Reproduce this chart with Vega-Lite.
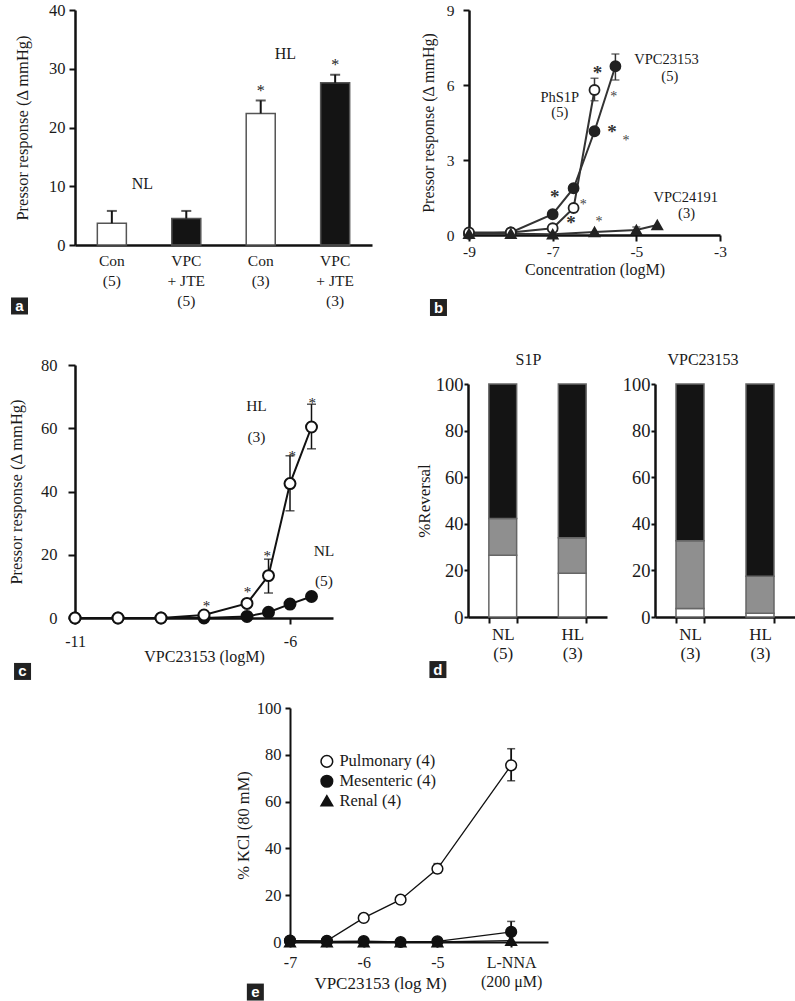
{
  "$schema": "https://vega.github.io/schema/vega-lite/v6.json",
  "padding": {"left": 8, "top": 2, "right": 2, "bottom": 2},
  "background": "white",
  "config": {
    "view": {"stroke": null},
    "font": "Liberation Serif",
    "axis": {"domainColor": "#111", "domainWidth": 2.5, "tickColor": "#111", "tickWidth": 2, "labelFont": "Liberation Serif", "labelFontSize": 16, "labelColor": "#1a1a1a", "labelFlush": false, "titleFont": "Liberation Serif", "titleFontSize": 16, "titleFontWeight": "normal", "titleColor": "#1a1a1a", "grid": false, "labelAngle": 0},
    "title": {"font": "Liberation Serif", "fontWeight": "normal", "fontSize": 16, "color": "#1a1a1a"}
  },
  "datasets": {
    "barsA": [
      {"grp": "Con|(5)", "drug": "Con", "v": 3.7, "hi": 5.8},
      {"grp": "VPC|+ JTE|(5)", "drug": "VPC + JTE", "v": 4.5, "hi": 5.8},
      {"grp": "Con|(3)", "drug": "Con", "v": 22.4, "hi": 24.6},
      {"grp": "VPC|+ JTE|(3)", "drug": "VPC + JTE", "v": 27.6, "hi": 29.0}
    ],
    "starsA": [
      {"grp": "Con|(3)", "y": 26.7},
      {"grp": "VPC|+ JTE|(3)", "y": 31.1}
    ],
    "ptsB": [
      {"s": "VPC23153", "x": -9, "y": 0.05},
      {"s": "VPC23153", "x": -8, "y": 0.1},
      {"s": "VPC23153", "x": -7, "y": 0.83},
      {"s": "VPC23153", "x": -6.5, "y": 1.87},
      {"s": "VPC23153", "x": -6, "y": 4.15},
      {"s": "VPC23153", "x": -5.5, "y": 6.75},
      {"s": "PhS1P", "x": -9, "y": 0.1},
      {"s": "PhS1P", "x": -8, "y": 0.1},
      {"s": "PhS1P", "x": -7, "y": 0.27},
      {"s": "PhS1P", "x": -6.5, "y": 1.08},
      {"s": "PhS1P", "x": -6, "y": 5.8},
      {"s": "VPC24191", "x": -9, "y": 0.05},
      {"s": "VPC24191", "x": -8, "y": 0.05},
      {"s": "VPC24191", "x": -7, "y": 0.03},
      {"s": "VPC24191", "x": -6, "y": 0.12},
      {"s": "VPC24191", "x": -5, "y": 0.2},
      {"s": "VPC24191", "x": -4.5, "y": 0.4}
    ],
    "errB": [
      {"x": -6, "lo": 5.37, "hi": 6.27},
      {"x": -5.5, "lo": 6.2, "hi": 7.24},
      {"x": -5, "lo": 0.1, "hi": 0.32}
    ],
    "starsBigB": [
      {"x": -5.93, "y": 6.64}, {"x": -5.58, "y": 4.3}, {"x": -6.95, "y": 1.67}, {"x": -6.56, "y": 0.64}
    ],
    "starsSmallB": [
      {"x": -5.54, "y": 5.64}, {"x": -5.25, "y": 3.9}, {"x": -6.27, "y": 1.33}, {"x": -5.89, "y": 0.64}
    ],
    "textB": [
      {"t": "VPC23153", "x": -4.28, "y": 7.0},
      {"t": "(5)", "x": -4.2, "y": 6.33},
      {"t": "PhS1P", "x": -6.83, "y": 5.48},
      {"t": "(5)", "x": -6.83, "y": 4.88},
      {"t": "VPC24191", "x": -3.82, "y": 1.48},
      {"t": "(3)", "x": -3.8, "y": 0.84}
    ],
    "lettersB": [{"L": "b", "x": -9.73, "y": -2.9}],
    "ptsC": [
      {"s": "NL", "x": -11, "y": 0}, {"s": "NL", "x": -10, "y": 0}, {"s": "NL", "x": -9, "y": 0},
      {"s": "NL", "x": -8, "y": 0}, {"s": "NL", "x": -7, "y": 0.5}, {"s": "NL", "x": -6.5, "y": 1.8},
      {"s": "NL", "x": -6, "y": 4.4}, {"s": "NL", "x": -5.5, "y": 6.8},
      {"s": "HL", "x": -11, "y": 0}, {"s": "HL", "x": -10, "y": 0}, {"s": "HL", "x": -9, "y": 0},
      {"s": "HL", "x": -8, "y": 0.95}, {"s": "HL", "x": -7, "y": 4.6}, {"s": "HL", "x": -6.5, "y": 13.4},
      {"s": "HL", "x": -6, "y": 42.5}, {"s": "HL", "x": -5.5, "y": 60.4}
    ],
    "errC": [
      {"x": -6.5, "lo": 7.9, "hi": 18.6},
      {"x": -6, "lo": 33.9, "hi": 51.3},
      {"x": -5.5, "lo": 53.5, "hi": 67.6}
    ],
    "starsC": [
      {"x": -7.94, "y": 4.9}, {"x": -6.99, "y": 9.2}, {"x": -6.53, "y": 20.7}, {"x": -5.95, "y": 52.3}, {"x": -5.48, "y": 69}
    ],
    "textC": [
      {"t": "HL", "x": -6.78, "y": 67},
      {"t": "(3)", "x": -6.78, "y": 57.3},
      {"t": "NL", "x": -5.21, "y": 21.3},
      {"t": "(5)", "x": -5.21, "y": 11.8}
    ],
    "lettersC": [
      {"L": "a", "x": -12.29, "y": 98.66},
      {"L": "c", "x": -12.22, "y": -16.9},
      {"L": "d", "x": -2.56, "y": -16.3}
    ],
    "revS1P": [
      {"grp": "NL|(5)", "seg": "w", "k": 1, "v": 26.5},
      {"grp": "NL|(5)", "seg": "g", "k": 2, "v": 15.8},
      {"grp": "NL|(5)", "seg": "b", "k": 3, "v": 57.7},
      {"grp": "HL|(3)", "seg": "w", "k": 1, "v": 18.8},
      {"grp": "HL|(3)", "seg": "g", "k": 2, "v": 15.2},
      {"grp": "HL|(3)", "seg": "b", "k": 3, "v": 66.0}
    ],
    "revVPC": [
      {"grp": "NL|(3)", "seg": "w", "k": 1, "v": 3.6},
      {"grp": "NL|(3)", "seg": "g", "k": 2, "v": 29.1},
      {"grp": "NL|(3)", "seg": "b", "k": 3, "v": 67.3},
      {"grp": "HL|(3)", "seg": "w", "k": 1, "v": 1.6},
      {"grp": "HL|(3)", "seg": "g", "k": 2, "v": 15.9},
      {"grp": "HL|(3)", "seg": "b", "k": 3, "v": 82.5}
    ],
    "ptsE": [
      {"s": "Pulmonary (4)", "x": -7, "y": 0.6}, {"s": "Pulmonary (4)", "x": -6.5, "y": 0.5},
      {"s": "Pulmonary (4)", "x": -6, "y": 10.3}, {"s": "Pulmonary (4)", "x": -5.5, "y": 18.1},
      {"s": "Pulmonary (4)", "x": -5, "y": 31.3}, {"s": "Pulmonary (4)", "x": -4, "y": 75.5},
      {"s": "Mesenteric (4)", "x": -7, "y": 0.5}, {"s": "Mesenteric (4)", "x": -6.5, "y": 0.3},
      {"s": "Mesenteric (4)", "x": -6, "y": 0.4}, {"s": "Mesenteric (4)", "x": -5.5, "y": 0},
      {"s": "Mesenteric (4)", "x": -5, "y": 0.3}, {"s": "Mesenteric (4)", "x": -4, "y": 4.3},
      {"s": "Renal (4)", "x": -7, "y": 0}, {"s": "Renal (4)", "x": -6.5, "y": 0},
      {"s": "Renal (4)", "x": -6, "y": 0}, {"s": "Renal (4)", "x": -5.5, "y": 0},
      {"s": "Renal (4)", "x": -5, "y": 0}, {"s": "Renal (4)", "x": -4, "y": 0.6}
    ],
    "errE": [
      {"x": -5, "lo": 29.5, "hi": 33.5},
      {"x": -4, "lo": 68.9, "hi": 82.6},
      {"x": -4, "lo": 0, "hi": 8.8}
    ],
    "keyE": [
      {"s": "Pulmonary (4)", "x": -6.5, "tx": -6.33, "y": 77.2},
      {"s": "Mesenteric (4)", "x": -6.5, "tx": -6.33, "y": 68.7},
      {"s": "Renal (4)", "x": -6.5, "tx": -6.33, "y": 60.4}
    ],
    "lettersE": [{"L": "e", "x": -7.47, "y": -21.4}]
  },
  "vconcat": [
    {
      "vconcat": [
        {
          "hconcat": [
            {
              "width": 297, "height": 235,
              "layer": [
                {"data": {"name": "barsA"},
                 "mark": {"type": "bar", "stroke": "#555", "strokeWidth": 1.5},
                 "encoding": {
                   "x": {"field": "grp", "type": "nominal", "sort": null,
                         "scale": {"domain": ["Con|(5)", "VPC|+ JTE|(5)", "Con|(3)", "VPC|+ JTE|(3)"], "paddingInner": 0.61, "paddingOuter": 0.3},
                         "axis": {"title": null, "ticks": false, "labelFontSize": 15.5, "labelExpr": "split(datum.value, '|')", "labelLineHeight": 20, "labelPadding": 8}},
                   "y": {"field": "v", "type": "quantitative", "scale": {"domain": [0, 40]},
                         "axis": {"values": [0, 10, 20, 30, 40], "tickSize": 6, "labelPadding": 4, "labelFontSize": 16.5, "title": "Pressor  response  (Δ mmHg)", "titleFontSize": 16.5, "titlePadding": 18}},
                   "fill": {"field": "drug", "type": "nominal", "scale": {"domain": ["Con", "VPC + JTE"], "range": ["white", "#141414"]}, "legend": null}
                 }},
                {"data": {"name": "barsA"},
                 "mark": {"type": "rule", "strokeWidth": 2, "color": "#141414"},
                 "encoding": {"x": {"field": "grp", "type": "nominal", "sort": null}, "y": {"field": "v", "type": "quantitative"}, "y2": {"field": "hi"}}},
                {"data": {"name": "barsA"},
                 "mark": {"type": "tick", "orient": "horizontal", "thickness": 2, "size": 10, "color": "#141414"},
                 "encoding": {"x": {"field": "grp", "type": "nominal", "sort": null}, "y": {"field": "hi", "type": "quantitative"}}},
                {"data": {"name": "starsA"},
                 "mark": {"type": "text", "fontSize": 16, "baseline": "middle", "dy": 3, "color": "#222"},
                 "encoding": {"x": {"field": "grp", "type": "nominal", "sort": null}, "y": {"field": "y", "type": "quantitative"}, "text": {"value": "*"}}},
                {"data": {"values": [{"t": "NL", "grp": "Con|(5)", "y": 10.4}]},
                 "mark": {"type": "text", "fontSize": 16, "baseline": "middle", "color": "#1a1a1a"},
                 "encoding": {"x": {"field": "grp", "type": "nominal", "sort": null, "bandPosition": 1.55}, "y": {"field": "y", "type": "quantitative"}, "text": {"field": "t"}}},
                {"data": {"values": [{"t": "HL", "grp": "Con|(3)", "y": 32.5}]},
                 "mark": {"type": "text", "fontSize": 16, "baseline": "middle", "color": "#1a1a1a"},
                 "encoding": {"x": {"field": "grp", "type": "nominal", "sort": null, "bandPosition": 1.35}, "y": {"field": "y", "type": "quantitative"}, "text": {"field": "t"}}}
              ]
            },
            {
              "width": 251, "height": 225,
              "layer": [
                {"data": {"name": "ptsB"},
                 "mark": {"type": "line", "color": "#333", "strokeWidth": 2},
                 "encoding": {
                   "x": {"field": "x", "type": "quantitative", "scale": {"domain": [-9, -3]},
                         "axis": {"values": [-9, -7, -5, -3], "labelExpr": "'' + datum.value", "tickSize": 6, "labelPadding": 3, "labelFontSize": 15.5, "title": "Concentration (logM)", "titleFontSize": 16, "titlePadding": 2}},
                   "y": {"field": "y", "type": "quantitative", "scale": {"domain": [0, 9]},
                         "axis": {"values": [0, 3, 6, 9], "tickSize": 6, "labelPadding": 9, "labelFontSize": 15.5, "title": "Pressor response (Δ mmHg)", "titleFontSize": 16, "titlePadding": 10}},
                   "detail": {"field": "s"}
                 }},
                {"data": {"name": "errB"},
                 "mark": {"type": "rule", "color": "#333", "strokeWidth": 1.5},
                 "encoding": {"x": {"field": "x", "type": "quantitative"}, "y": {"field": "lo", "type": "quantitative"}, "y2": {"field": "hi"}}},
                {"data": {"name": "errB"},
                 "mark": {"type": "tick", "orient": "horizontal", "size": 8, "thickness": 1.5, "color": "#333"},
                 "encoding": {"x": {"field": "x", "type": "quantitative"}, "y": {"field": "hi", "type": "quantitative"}}},
                {"data": {"name": "errB"},
                 "mark": {"type": "tick", "orient": "horizontal", "size": 8, "thickness": 1.5, "color": "#333"},
                 "encoding": {"x": {"field": "x", "type": "quantitative"}, "y": {"field": "lo", "type": "quantitative"}}},
                {"data": {"name": "ptsB"},
                 "mark": {"type": "point", "filled": true, "size": 100, "stroke": "#222", "strokeWidth": 1.8, "opacity": 1},
                 "encoding": {
                   "x": {"field": "x", "type": "quantitative"},
                   "y": {"field": "y", "type": "quantitative"},
                   "shape": {"field": "s", "type": "nominal", "scale": {"domain": ["VPC23153", "PhS1P", "VPC24191"], "range": ["circle", "circle", "triangle-up"]}, "legend": null},
                   "fill": {"field": "s", "type": "nominal", "scale": {"domain": ["VPC23153", "PhS1P", "VPC24191"], "range": ["#222", "white", "#222"]}, "legend": null}
                 }},
                {"data": {"name": "starsBigB"},
                 "mark": {"type": "text", "fontSize": 19, "fontWeight": "bold", "baseline": "middle", "dy": 4, "color": "#333"},
                 "encoding": {"x": {"field": "x", "type": "quantitative"}, "y": {"field": "y", "type": "quantitative"}, "text": {"value": "*"}}},
                {"data": {"name": "starsSmallB"},
                 "mark": {"type": "text", "fontSize": 14, "baseline": "middle", "dy": 3, "color": "#444"},
                 "encoding": {"x": {"field": "x", "type": "quantitative"}, "y": {"field": "y", "type": "quantitative"}, "text": {"value": "*"}}},
                {"data": {"name": "textB"},
                 "mark": {"type": "text", "fontSize": 14.5, "baseline": "middle", "color": "#1a1a1a"},
                 "encoding": {"x": {"field": "x", "type": "quantitative"}, "y": {"field": "y", "type": "quantitative"}, "text": {"field": "t"}}},
                {"data": {"name": "lettersB"},
                 "mark": {"type": "point", "shape": "square", "size": 289, "filled": true, "color": "#222", "opacity": 1, "clip": false},
                 "encoding": {"x": {"field": "x", "type": "quantitative"}, "y": {"field": "y", "type": "quantitative"}}},
                {"data": {"name": "lettersB"},
                 "mark": {"type": "text", "font": "Liberation Sans", "fontWeight": "bold", "fontSize": 15, "color": "white", "baseline": "middle", "clip": false},
                 "encoding": {"x": {"field": "x", "type": "quantitative"}, "y": {"field": "y", "type": "quantitative"}, "text": {"field": "L"}}}
              ]
            }
          ],
          "spacing": 97,
          "bounds": "flush",
          "resolve": {"scale": {"fill": "independent", "shape": "independent"}}
        },
        {
          "hconcat": [
            {
              "width": 258, "height": 253,
              "layer": [
                {"data": {"name": "ptsC"},
                 "mark": {"type": "line", "color": "#111", "strokeWidth": 2},
                 "encoding": {
                   "x": {"field": "x", "type": "quantitative", "scale": {"domain": [-11, -5]},
                         "axis": {"values": [-11, -6], "labelExpr": "'' + datum.value", "tickSize": 6, "labelPadding": 9, "title": "VPC23153 (logM)", "titleFontSize": 16, "titlePadding": -1}},
                   "y": {"field": "y", "type": "quantitative", "scale": {"domain": [0, 80]},
                         "axis": {"values": [0, 20, 40, 60, 80], "tickSize": 7, "labelPadding": 11, "labelFontSize": 16.5, "title": "Pressor  response  (Δ mmHg)", "titleFontSize": 16.5, "titlePadding": 16}},
                   "detail": {"field": "s"}
                 }},
                {"data": {"name": "errC"},
                 "mark": {"type": "rule", "color": "#111", "strokeWidth": 1.5},
                 "encoding": {"x": {"field": "x", "type": "quantitative"}, "y": {"field": "lo", "type": "quantitative"}, "y2": {"field": "hi"}}},
                {"data": {"name": "errC"},
                 "mark": {"type": "tick", "orient": "horizontal", "size": 9, "thickness": 1.5, "color": "#111"},
                 "encoding": {"x": {"field": "x", "type": "quantitative"}, "y": {"field": "hi", "type": "quantitative"}}},
                {"data": {"name": "errC"},
                 "mark": {"type": "tick", "orient": "horizontal", "size": 9, "thickness": 1.5, "color": "#111"},
                 "encoding": {"x": {"field": "x", "type": "quantitative"}, "y": {"field": "lo", "type": "quantitative"}}},
                {"data": {"name": "ptsC"},
                 "mark": {"type": "point", "filled": true, "size": 120, "stroke": "#111", "strokeWidth": 2, "opacity": 1},
                 "encoding": {
                   "x": {"field": "x", "type": "quantitative"},
                   "y": {"field": "y", "type": "quantitative"},
                   "fill": {"field": "s", "type": "nominal", "scale": {"domain": ["NL", "HL"], "range": ["#111", "white"]}, "legend": null}
                 }},
                {"data": {"name": "starsC"},
                 "mark": {"type": "text", "fontSize": 15, "baseline": "middle", "dy": 3, "color": "#222"},
                 "encoding": {"x": {"field": "x", "type": "quantitative"}, "y": {"field": "y", "type": "quantitative"}, "text": {"value": "*"}}},
                {"data": {"name": "textC"},
                 "mark": {"type": "text", "fontSize": 15.5, "baseline": "middle", "color": "#1a1a1a"},
                 "encoding": {"x": {"field": "x", "type": "quantitative"}, "y": {"field": "y", "type": "quantitative"}, "text": {"field": "t"}}},
                {"data": {"name": "lettersC"},
                 "mark": {"type": "point", "shape": "square", "size": 289, "filled": true, "color": "#222", "opacity": 1, "clip": false},
                 "encoding": {"x": {"field": "x", "type": "quantitative"}, "y": {"field": "y", "type": "quantitative"}}},
                {"data": {"name": "lettersC"},
                 "mark": {"type": "text", "font": "Liberation Sans", "fontWeight": "bold", "fontSize": 15, "color": "white", "baseline": "middle", "clip": false},
                 "encoding": {"x": {"field": "x", "type": "quantitative"}, "y": {"field": "y", "type": "quantitative"}, "text": {"field": "L"}}}
              ]
            },
            {
              "vconcat": [
                {"width": 1, "height": 19, "data": {"values": [{"t": ""}]}, "mark": {"type": "text"}, "encoding": {"text": {"field": "t"}}},
                {
                  "hconcat": [
                    {
                      "width": 139, "height": 233,
                      "title": {"text": "S1P", "offset": 7, "dx": -9},
                      "data": {"name": "revS1P"},
                      "mark": {"type": "bar", "stroke": "#666", "strokeWidth": 1.5},
                      "encoding": {
                        "x": {"field": "grp", "type": "nominal", "sort": null, "scale": {"paddingInner": 0.6, "paddingOuter": 0.3},
                              "axis": {"title": null, "tickBand": "extent", "tickSize": 6, "labelFontSize": 17, "labelExpr": "isValid(datum.value) ? split(datum.value, '|') : ''", "labelLineHeight": 19, "labelPadding": 3}},
                        "y": {"field": "v", "type": "quantitative", "stack": "zero", "scale": {"domain": [0, 100]},
                              "axis": {"values": [0, 20, 40, 60, 80, 100], "tickSize": 4, "labelPadding": 1, "labelFontSize": 18.5, "title": "%Reversal", "titleFontSize": 17, "titlePadding": 2}},
                        "fill": {"field": "seg", "type": "nominal", "scale": {"domain": ["w", "g", "b"], "range": ["white", "#8f8f8f", "#141414"]}, "legend": null},
                        "order": {"field": "k", "type": "quantitative"}
                      }
                    },
                    {
                      "width": 140, "height": 233,
                      "title": {"text": "VPC23153", "offset": 7, "dx": -22},
                      "data": {"name": "revVPC"},
                      "mark": {"type": "bar", "stroke": "#666", "strokeWidth": 1.5},
                      "encoding": {
                        "x": {"field": "grp", "type": "nominal", "sort": null, "scale": {"paddingInner": 0.6, "paddingOuter": 0.3},
                              "axis": {"title": null, "tickBand": "extent", "tickSize": 6, "labelFontSize": 17, "labelExpr": "isValid(datum.value) ? split(datum.value, '|') : ''", "labelLineHeight": 19, "labelPadding": 3}},
                        "y": {"field": "v", "type": "quantitative", "stack": "zero", "scale": {"domain": [0, 100]},
                              "axis": {"values": [0, 20, 40, 60, 80, 100], "tickSize": 4, "labelPadding": 1, "labelFontSize": 18.5, "title": null}},
                        "fill": {"field": "seg", "type": "nominal", "scale": {"domain": ["w", "g", "b"], "range": ["white", "#8f8f8f", "#141414"]}, "legend": null},
                        "order": {"field": "k", "type": "quantitative"}
                      }
                    }
                  ],
                  "spacing": 48,
                  "bounds": "flush",
                  "resolve": {"scale": {"fill": "independent", "x": "independent", "y": "independent"}}
                }
              ],
              "spacing": 0,
              "bounds": "flush",
              "resolve": {"scale": {"fill": "independent"}}
            }
          ],
          "spacing": 135,
          "bounds": "flush",
          "resolve": {"scale": {"fill": "independent", "shape": "independent"}}
        }
      ],
      "spacing": 355,
      "bounds": "flush",
      "resolve": {"scale": {"fill": "independent", "shape": "independent"}}
    },
    {
      "hconcat": [
        {"width": 215, "height": 1, "data": {"values": [{"t": ""}]}, "mark": {"type": "text"}, "encoding": {"text": {"field": "t"}}},
        {
          "width": 258, "height": 234,
          "layer": [
            {"data": {"name": "ptsE"},
             "mark": {"type": "line", "color": "#111", "strokeWidth": 1.3},
             "encoding": {
               "x": {"field": "x", "type": "quantitative", "scale": {"domain": [-7, -3.88]},
                     "axis": {"values": [-7, -6, -5, -4], "labelExpr": "datum.value == -4 ? ['L-NNA', '(200 μM)'] : '' + datum.value", "labelFontSize": 16, "labelLineHeight": 19, "tickSize": 5, "domainWidth": 2, "labelPadding": 7, "title": "VPC23153 (log M)", "titleFontSize": 17, "titleX": 90, "titleY": 41, "titleAlign": "center", "titleBaseline": "middle"}},
               "y": {"field": "y", "type": "quantitative", "scale": {"domain": [0, 100]},
                     "axis": {"values": [0, 20, 40, 60, 80, 100], "tickSize": 5, "domainWidth": 2, "labelPadding": 4, "labelFontSize": 16.5, "title": "% KCl (80 mM)", "titleFontSize": 16.5, "titlePadding": 5}},
               "detail": {"field": "s"}
             }},
            {"data": {"name": "errE"},
             "mark": {"type": "rule", "color": "#111", "strokeWidth": 1.8},
             "encoding": {"x": {"field": "x", "type": "quantitative"}, "y": {"field": "lo", "type": "quantitative"}, "y2": {"field": "hi"}}},
            {"data": {"name": "errE"},
             "mark": {"type": "tick", "orient": "horizontal", "size": 8, "thickness": 1.5, "color": "#111"},
             "encoding": {"x": {"field": "x", "type": "quantitative"}, "y": {"field": "hi", "type": "quantitative"}}},
            {"data": {"name": "errE"},
             "mark": {"type": "tick", "orient": "horizontal", "size": 8, "thickness": 1.5, "color": "#111"},
             "encoding": {"x": {"field": "x", "type": "quantitative"}, "y": {"field": "lo", "type": "quantitative"}}},
            {"data": {"name": "ptsE"},
             "mark": {"type": "point", "filled": true, "size": 115, "stroke": "#111", "strokeWidth": 1.5, "opacity": 1},
             "encoding": {
               "x": {"field": "x", "type": "quantitative"},
               "y": {"field": "y", "type": "quantitative"},
               "shape": {"field": "s", "type": "nominal", "scale": {"domain": ["Pulmonary (4)", "Mesenteric (4)", "Renal (4)"], "range": ["circle", "circle", "triangle-up"]}, "legend": null},
               "fill": {"field": "s", "type": "nominal", "scale": {"domain": ["Pulmonary (4)", "Mesenteric (4)", "Renal (4)"], "range": ["white", "#111", "#111"]}, "legend": null}
             }},
            {"data": {"name": "keyE"},
             "mark": {"type": "point", "filled": true, "size": 135, "stroke": "#111", "strokeWidth": 1.5, "opacity": 1},
             "encoding": {
               "x": {"field": "x", "type": "quantitative"},
               "y": {"field": "y", "type": "quantitative"},
               "shape": {"field": "s", "type": "nominal"},
               "fill": {"field": "s", "type": "nominal"}
             }},
            {"data": {"name": "keyE"},
             "mark": {"type": "text", "fontSize": 16.5, "align": "left", "baseline": "middle", "color": "#1a1a1a"},
             "encoding": {
               "x": {"field": "tx", "type": "quantitative"},
               "y": {"field": "y", "type": "quantitative"},
               "text": {"field": "s"}
             }},
            {"data": {"name": "lettersE"},
             "mark": {"type": "point", "shape": "square", "size": 289, "filled": true, "color": "#222", "opacity": 1, "clip": false},
             "encoding": {"x": {"field": "x", "type": "quantitative"}, "y": {"field": "y", "type": "quantitative"}}},
            {"data": {"name": "lettersE"},
             "mark": {"type": "text", "font": "Liberation Sans", "fontWeight": "bold", "fontSize": 15, "color": "white", "baseline": "middle", "clip": false},
             "encoding": {"x": {"field": "x", "type": "quantitative"}, "y": {"field": "y", "type": "quantitative"}, "text": {"field": "L"}}}
          ]
        }
      ],
      "spacing": 0,
      "bounds": "flush",
      "resolve": {"scale": {"fill": "independent", "shape": "independent"}}
    }
  ],
  "spacing": 698,
  "bounds": "flush",
  "resolve": {"scale": {"fill": "independent", "shape": "independent"}}
}
